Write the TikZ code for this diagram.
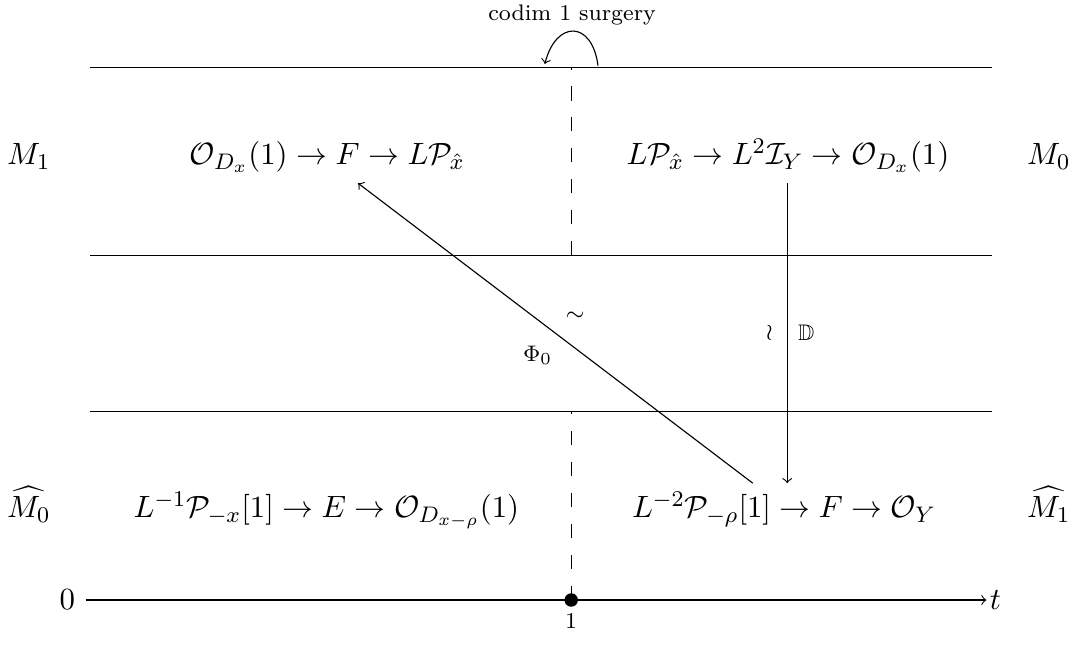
\documentclass[11pt,tikz,border=0pt]{standalone}
\usepackage{amssymb}
\usepackage{xcolor}

\begin{document}
\begin{tikzpicture}[
    row/.style={anchor=base, inner sep=0pt},
    band/.style={line width=0.4pt},
    surgline/.style={dash pattern=on 5pt off 6pt, line width=0.4pt},
    lbl/.style={font=\scriptsize},
    map/.style={->, line width=0.4pt},
]
\useasboundingbox (0,0) rectangle (13.4,8.05);

% Bandas
\draw[band] (1.125,7.21) -- (12.4,7.21);
\draw[band] (1.125,4.86) -- (12.4,4.86);
\draw[band] (1.125,2.91) -- (12.4,2.91);

% Eje temporal
\node (zero) at (0.84,0.55) {$0$};
\node[anchor=west, inner sep=1pt] (t) at (12.33,0.55) {$t$};
\draw[map] (zero) -- (t);
\fill (7.14,0.55) circle (2.4pt);
\coordinate (wall) at (7.14,0.55);
\node[lbl, below=1pt] (one) at (wall) {$1$};

% Pared de la cirugia
\draw[surgline] (wall) -- (7.14,2.91);
\draw[surgline] (7.14,4.86) -- (7.14,7.21);
\node[lbl] (codim) at (7.15,7.86) {codim 1 surgery};
\coordinate (cs) at (7.475,7.23);
\coordinate (ce) at (6.81,7.25);
\draw[map] (cs) .. controls (7.4,7.8) and (6.95,7.8) .. (ce);

% Variedades
\node[row] (m1) at (0.36,5.99) {$M_1$};
\node[row] (m0) at (13.11,5.99) {$M_0$};
\node[row] (hm0) at (0.36,1.58) {$\widehat{M_0}$};
\node[row] (hm1) at (13.11,1.58) {$\widehat{M_1}$};

% Triangulos
\node[row] (tl) at (4.09,5.99) {$\mathcal{O}_{D_x}(1)\to F\to L\mathcal{P}_{\hat x}$};
\node[row] (tr) at (9.85,5.99) {$L\mathcal{P}_{\hat x}\to L^2\mathcal{I}_Y\to\mathcal{O}_{D_x}(1)$};
\node[row] (bl) at (4.08,1.58) {$L^{-1}\mathcal{P}_{-x}[1]\to E\to\mathcal{O}_{D_{x-\rho}}(1)$};
\node[row] (br) at (9.80,1.58) {$L^{-2}\mathcal{P}_{-\rho}[1]\to F\to\mathcal{O}_Y$};

% Flechas
\coordinate (phiS) at (9.41,2.01);
\coordinate (phiT) at (4.475,5.76);
\coordinate (dS) at (9.84,5.76);
\coordinate (dT) at (9.84,2.01);
\draw[map] (phiS) -- node[lbl, pos=.45, above=6pt] {$\sim$}
                     node[lbl, pos=.545, below=5.5pt] {$\Phi_0$} (phiT);
\draw[map] (dS) -- node[lbl, left=1.3pt] {$\wr$} node[lbl, right=0pt] {$\mathbb{D}$} (dT);

\end{tikzpicture}
\end{document}
